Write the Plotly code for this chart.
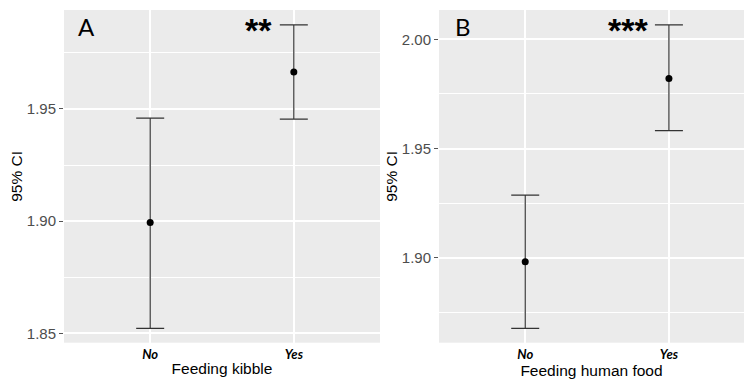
import plotly.graph_objects as go

categories = ["No", "Yes"]

# Panel A: Feeding kibble
a_mean = [1.8994, 1.9665]
a_upper = [1.9459, 1.9875]
a_lower = [1.8522, 1.9455]

# Panel B: Feeding human food
b_mean = [1.8982, 1.9820]
b_upper = [1.9287, 2.0066]
b_lower = [1.8677, 1.9582]

a_ticks = [1.85, 1.90, 1.95]
b_ticks = [1.90, 1.95, 2.00]

W, H = 744, 383
fig = go.Figure()

def add_panel(mean, upper, lower, xa, ya):
    fig.add_trace(go.Scatter(
        x=categories, y=mean, mode="markers",
        marker=dict(color="black", size=7),
        error_y=dict(type="data", symmetric=False,
                     array=[u - m for u, m in zip(upper, mean)],
                     arrayminus=[m - l for m, l in zip(mean, lower)],
                     color="#333333", thickness=1.2, width=14),
        xaxis=xa, yaxis=ya, showlegend=False, hoverinfo="skip"))

add_panel(a_mean, a_upper, a_lower, "x", "y")
add_panel(b_mean, b_upper, b_lower, "x2", "y2")

title_font = dict(family="Liberation Sans", size=15.5, color="black")
ydom = [1 - 342.7 / H, 1 - 10 / H]
xcommon = dict(type="category", showgrid=True, gridcolor="white", gridwidth=1.5,
               zeroline=False, ticks="", ticklabelstandoff=2,
               tickfont=dict(family="Lato", size=13, color="black", weight="bold", style="italic"),
               showline=False)
ycommon = dict(showgrid=True, gridcolor="white", gridwidth=1.5, zeroline=False,
               ticks="outside", ticklen=4, tickcolor="#555555", tickwidth=1,
               tickfont=dict(family="Liberation Sans", size=15, color="#4d4d4d"),
               minor=dict(dtick=0.025, showgrid=True, gridcolor="white", gridwidth=0.7, ticks=""),
               dtick=0.05, tickformat=".2f", showline=False)

fig.update_layout(
    width=W, height=H, margin=dict(l=0, r=0, t=0, b=0),
    paper_bgcolor="white", plot_bgcolor="#ebebeb",
    xaxis=dict(xcommon, domain=[64 / W, 380 / W], range=[-0.6, 1.6],
               title=dict(text="Feeding kibble", font=title_font, standoff=2), anchor="y"),
    xaxis2=dict(xcommon, domain=[439 / W, 1.0], range=[-0.6, -0.6 + 305 / 143.7],
                title=dict(text="Feeding human food", font=title_font, standoff=2), anchor="y2"),
    yaxis=dict(ycommon, domain=ydom, range=[1.8458, 1.9941], tickvals=a_ticks,
               title=dict(text="95% CI", font=title_font, standoff=0), anchor="x"),
    yaxis2=dict(ycommon, domain=ydom, range=[1.8611, 2.0134], tickvals=b_ticks,
                title=dict(text="95% CI", font=title_font, standoff=0), anchor="x2"),
)

fig.add_annotation(text="A", xref="x domain", yref="y domain", x=0.038, y=0.95,
                   xanchor="left", yanchor="middle", showarrow=False,
                   font=dict(family="Lato", size=24, color="black"))
fig.add_annotation(text="B", xref="x2 domain", yref="y2 domain", x=(453 - 439) / 305, y=0.95,
                   xanchor="left", yanchor="middle", showarrow=False,
                   font=dict(family="Lato", size=24, color="black"))
fig.add_annotation(text="<b>**</b>", xref="x", yref="y", x="Yes", y=a_upper[1],
                   xanchor="right", yanchor="middle", xshift=-20, yshift=-5, showarrow=False,
                   font=dict(family="Liberation Sans", size=34, color="black", weight="bold"))
fig.add_annotation(text="<b>***</b>", xref="x2", yref="y2", x="Yes", y=b_upper[1],
                   xanchor="right", yanchor="middle", xshift=-19, yshift=-5, showarrow=False,
                   font=dict(family="Liberation Sans", size=34, color="black", weight="bold"))

fig.write_html("out.html")
